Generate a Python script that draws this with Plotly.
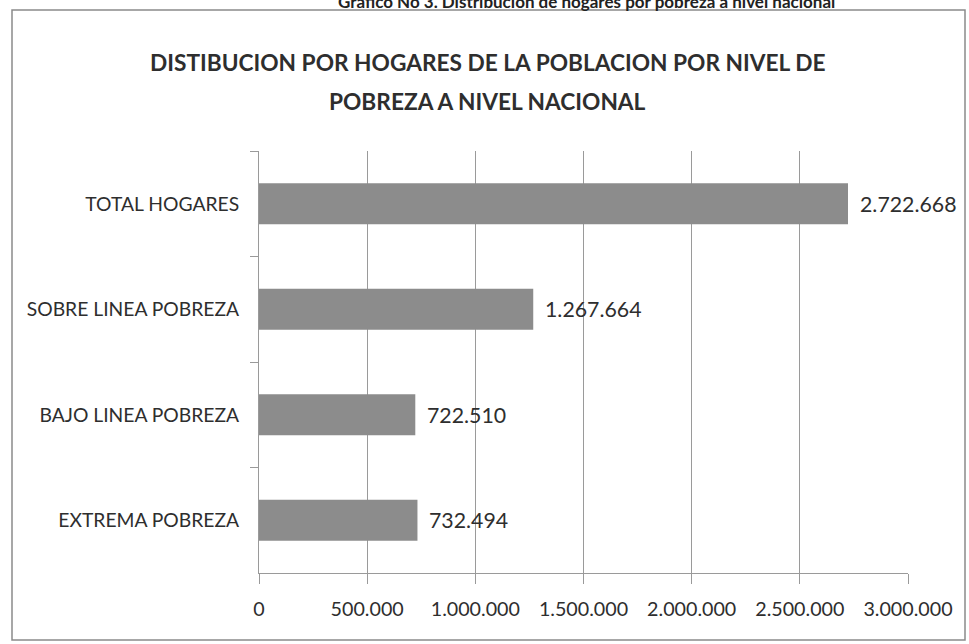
import plotly.graph_objects as go

# data, top to bottom as in the source chart
categorias = ["TOTAL HOGARES", "SOBRE LINEA POBREZA", "BAJO LINEA POBREZA", "EXTREMA POBREZA"]
hogares = [2722668, 1267664, 722510, 732494]
x_ticks = [0, 500000, 1000000, 1500000, 2000000, 2500000, 3000000]

titulo_externo = "Gráfico No 3. Distribución de hogares por pobreza a nivel nacional"
titulo = ["DISTIBUCION POR HOGARES DE LA POBLACION POR NIVEL DE", "POBREZA A NIVEL NACIONAL"]

W, H = 969, 644
L, R, T, B = 259, 61, 151, 71
pw, ph = W - L - R, H - T - B

BAR = "#8c8c8c"
LINE = "#9a9a9a"
TXT = "#2e2e2e"
FONT = "Lato"


def px_x(px):
    return (px - L) / pw


def px_y(py):
    return (H - B - py) / ph


def fmt(v):
    return f"{v:,}".replace(",", ".")


fig = go.Figure(go.Bar(
    x=hogares,
    y=categorias,
    orientation="h",
    marker=dict(color=BAR, line=dict(width=0)),
    hoverinfo="skip",
))
fig.update_traces(width=0.39)

# value labels just right of each bar
for cat, val in zip(categorias, hogares):
    fig.add_annotation(
        x=val, y=cat, xref="x", yref="y",
        text=fmt(val), showarrow=False,
        xanchor="left", xshift=10,
        font=dict(family=FONT, size=21.3, color=TXT),
    )

# chart titles
for linea, ypx in zip(titulo, [62, 101]):
    fig.add_annotation(
        text=linea, xref="paper", yref="paper",
        x=px_x(487), y=px_y(ypx), xanchor="center", yanchor="middle",
        showarrow=False, font=dict(family=FONT, size=22.7, color=TXT, weight="bold"),
    )
# caption of the page above, cut by the scan edge
fig.add_annotation(
    text=f"<b>{titulo_externo}</b>", xref="paper", yref="paper",
    x=px_x(586), y=px_y(1), xanchor="center", yanchor="middle",
    showarrow=False, font=dict(family=FONT, size=17, color="#222222"),
)

# chart frame
fig.add_shape(
    type="rect", xref="paper", yref="paper",
    x0=px_x(12), x1=px_x(965), y0=px_y(640), y1=px_y(10),
    line=dict(color="#8a8a8a", width=1.5), layer="below",
)

fig.update_layout(
    width=W, height=H,
    margin=dict(l=L, r=R, t=T, b=B, pad=0),
    paper_bgcolor="white",
    plot_bgcolor="white",
    separators=",.",
    showlegend=False,
    bargap=0.6,
    font=dict(family=FONT, color=TXT),
    xaxis=dict(
        range=[0, 3000000],
        tickvals=x_ticks,
        tickformat=",d",
        showgrid=True, gridcolor=LINE, gridwidth=1,
        zeroline=False,
        showline=True, linecolor=LINE, linewidth=1,
        ticks="outside", ticklen=10, tickcolor=LINE,
        ticklabelstandoff=8,
        tickfont=dict(family=FONT, size=19.7, color=TXT),
    ),
    yaxis=dict(
        autorange="reversed",
        showgrid=False,
        showline=True, linecolor=LINE, linewidth=1,
        ticks="outside", ticklen=8, tickcolor=LINE,
        tickson="boundaries",
        ticklabelstandoff=15,
        tickfont=dict(family=FONT, size=19.3, color=TXT),
    ),
)

# the page's default 8px body margin would push the figure off the window
fig.write_html(
    "out.html",
    config={"displayModeBar": False},
    post_script="document.body.style.margin='0';",
)
